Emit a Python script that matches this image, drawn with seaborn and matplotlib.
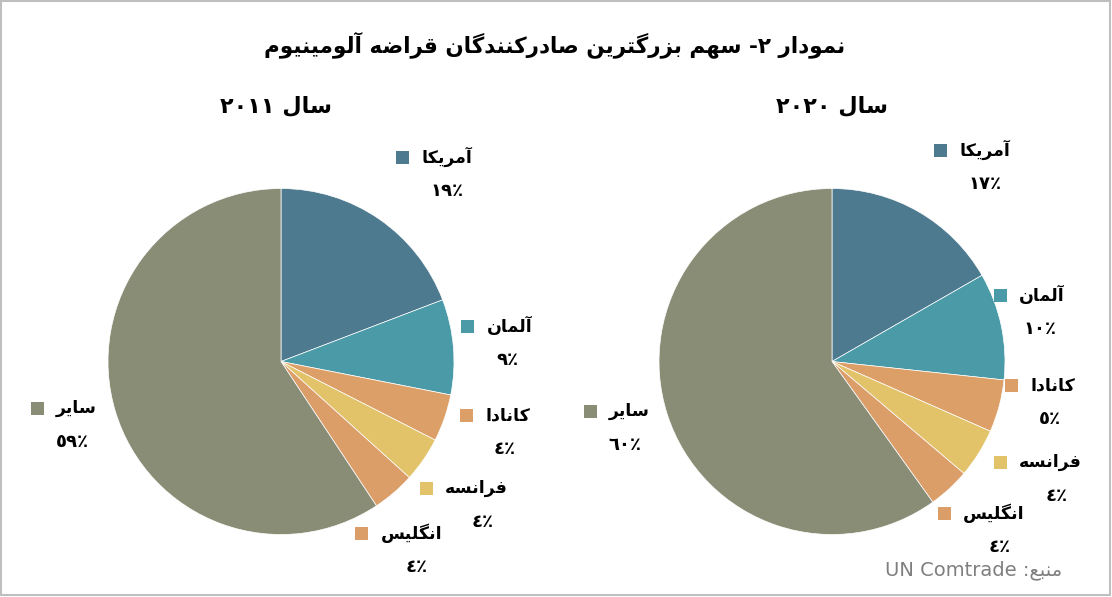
"""
Pie charts: share of largest aluminium scrap exporters (2011 vs 2020)
"""

import re
import matplotlib
matplotlib.use("Agg")
import matplotlib.pyplot as plt
from matplotlib.patches import Rectangle
import seaborn as sns

# ---- data ----
countries = ["آمریکا", "آلمان", "کانادا", "فرانسه", "انگلیس", "سایر"]
share_2011 = [19.2, 8.9, 4.4, 4.2, 4.0, 59.3]
share_2020 = [16.7, 10.0, 4.9, 4.6, 3.9, 59.9]
labels_2011 = ["١٩٪", "٩٪", "٤٪", "٤٪", "٤٪", "٥٩٪"]
labels_2020 = ["١٧٪", "١٠٪", "٥٪", "٤٪", "٤٪", "٦٠٪"]
title_text = "نمودار ٢- سهم بزرگترین صادرکنندگان قراضه آلومینیوم"
year_titles = ["سال ٢٠١١", "سال ٢٠٢٠"]
source_text = "منبع: UN Comtrade"

palette = sns.color_palette(["#4E7A8F", "#4B9AA7", "#DC9F67", "#E3C36A", "#DC9E69", "#8A8D76"])

# ---- minimal arabic shaping (presentation forms) + visual ordering ----
FORMS = {
    'ا': ('\uFE8D', '\uFE8E', None, None),
    'آ': ('\uFE81', '\uFE82', None, None),
    'ب': ('\uFE8F', '\uFE90', '\uFE91', '\uFE92'),
    'ت': ('\uFE95', '\uFE96', '\uFE97', '\uFE98'),
    'د': ('\uFEA9', '\uFEAA', None, None),
    'ر': ('\uFEAD', '\uFEAE', None, None),
    'ز': ('\uFEAF', '\uFEB0', None, None),
    'س': ('\uFEB1', '\uFEB2', '\uFEB3', '\uFEB4'),
    'ص': ('\uFEB9', '\uFEBA', '\uFEBB', '\uFEBC'),
    'ض': ('\uFEBD', '\uFEBE', '\uFEBF', '\uFEC0'),
    'ع': ('\uFEC9', '\uFECA', '\uFECB', '\uFECC'),
    'ف': ('\uFED1', '\uFED2', '\uFED3', '\uFED4'),
    'ق': ('\uFED5', '\uFED6', '\uFED7', '\uFED8'),
    'ل': ('\uFEDD', '\uFEDE', '\uFEDF', '\uFEE0'),
    'م': ('\uFEE1', '\uFEE2', '\uFEE3', '\uFEE4'),
    'ن': ('\uFEE5', '\uFEE6', '\uFEE7', '\uFEE8'),
    'ه': ('\uFEE9', '\uFEEA', '\uFEEB', '\uFEEC'),
    'و': ('\uFEED', '\uFEEE', None, None),
    'ی': ('\uFBFC', '\uFBFD', '\uFBFE', '\uFBFF'),
    'ک': ('\uFB8E', '\uFB8F', '\uFB90', '\uFB91'),
    'گ': ('\uFB92', '\uFB93', '\uFB94', '\uFB95'),
}
LTR_RUN = r'[A-Za-z0-9\u0660-\u066A%](?:[A-Za-z0-9\u0660-\u066A% ]*[A-Za-z0-9\u0660-\u066A%])?'


def shape(text):
    out = []
    for i, ch in enumerate(text):
        f = FORMS.get(ch)
        if f is None:
            out.append(ch)
            continue
        prev = text[i - 1] if i > 0 else ''
        nxt = text[i + 1] if i < len(text) - 1 else ''
        jp = prev in FORMS and FORMS[prev][2] is not None
        jn = f[2] is not None and nxt in FORMS
        if jp and jn:
            out.append(f[3])
        elif jp:
            out.append(f[1])
        elif jn:
            out.append(f[2])
        else:
            out.append(f[0])
    return ''.join(out)


def fa(text):
    s = shape(text)[::-1]
    return re.sub(LTR_RUN, lambda m: m.group(0)[::-1], s)


# ---- layout (pixels) ----
W, H = 1112, 597
sns.set_theme(style="white")
plt.rcParams['font.family'] = ['DejaVu Sans']
plt.rcParams['text.color'] = 'black'

fig = plt.figure(figsize=(W / 100, H / 100), dpi=100)
fig.patch.set_facecolor("white")


def fx(x):
    return x / W


def fy(y):
    return 1 - y / H


# outer frame
fig.patches.append(Rectangle((fx(1), fy(H - 2)), fx(W - 3), (H - 3) / H, transform=fig.transFigure,
                             fill=False, edgecolor="#BFBFBF", linewidth=1.5))

fig.text(fx(555), fy(45), fa(title_text), ha="center", va="center", fontsize=15.5, fontweight="bold")

pies = [
    dict(center=(281, 361.5), values=share_2011, labels=labels_2011, title=year_titles[0], title_xy=(276, 106),
         spots=[(472, 157), (532, 326), (530, 415), (508, 488), (442, 533), (97, 408)]),
    dict(center=(832, 361.5), values=share_2020, labels=labels_2020, title=year_titles[1], title_xy=(832, 106),
         spots=[(1010, 150), (1065, 295), (1075, 385), (1082, 462), (1025, 513), (650, 411)]),
]
R = 173

label_texts = []
for p in pies:
    cx, cy = p["center"]
    ax = fig.add_axes([fx(cx - R), fy(cy + R), 2 * R / W, 2 * R / H])
    ax.pie(p["values"], colors=palette, startangle=90, counterclock=False, radius=1,
           wedgeprops=dict(edgecolor="white", linewidth=0.5))
    ax.set_xlim(-1, 1)
    ax.set_ylim(-1, 1)
    ax.set_aspect("auto")
    ax.axis("off")

    fig.text(fx(p["title_xy"][0]), fy(p["title_xy"][1]), fa(p["title"]), ha="center", va="center",
             fontsize=16, fontweight="bold")

    for name, lab, col, (tx, ty) in zip(countries, p["labels"], palette, p["spots"]):
        t = fig.text(fx(tx), fy(ty), fa(name), ha="right", va="center", fontsize=12.5, fontweight="bold")
        fig.text(fx(tx - 25), fy(ty + 34), fa(lab), ha="center", va="center", fontsize=13, fontweight="bold")
        label_texts.append((t, col))

# colored squares placed left of the rendered labels
fig.canvas.draw()
renderer = fig.canvas.get_renderer()
for t, col in label_texts:
    bb = t.get_window_extent(renderer)
    sq = 13
    x0 = bb.x0 - 12 - sq
    yc = (bb.y0 + bb.y1) / 2
    fig.patches.append(Rectangle((x0 / W, (yc - sq / 2) / H), sq / W, sq / H, transform=fig.transFigure,
                                 facecolor=col, edgecolor="none"))

fig.text(fx(1062), fy(570), fa(source_text), ha="right", va="center", fontsize=14, color="#7F7F7F")

plt.savefig("out.png", dpi=100)
